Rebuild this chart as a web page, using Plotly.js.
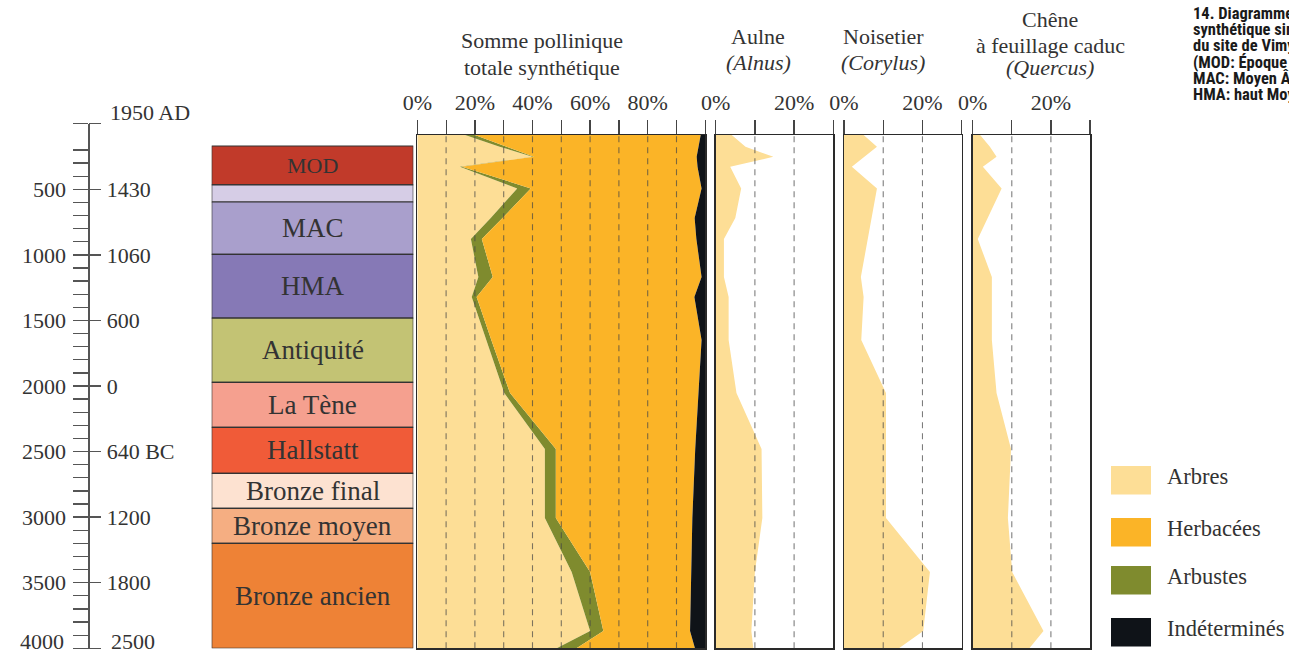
<!DOCTYPE html>
<html><head><meta charset="utf-8">
<script src="https://cdn.plot.ly/plotly-3.0.1.min.js"></script>
<style>html,body{margin:0;padding:0;background:#fff;}#chart{width:1289px;height:654px;}</style>
</head><body><div id="chart"></div>
<script>
// ---------- data (years BP on the depth axis, values in %) ----------
const depthBP      = [86, 175, 252, 328, 493, 719, 879, 1169, 1322, 1649, 2054, 2481, 3007, 3419, 3869, 4000];
const arbres       = [16.6, 28.6, 40.0, 14.8, 34.7, 25.5, 18.6, 21.2, 18.9, 23.9, 30.2, 44.3, 44.3, 53.6, 60.0, 48.4];
const arbustes     = [3.4, 2.0, 0.5, 0.7, 4.7, 4.1, 3.8, 5.0, 1.7, 1.8, 2.0, 3.8, 3.8, 6.4, 4.6, 6.9];
const herbacees    = [78.4, 67.0, 56.5, 81.8, 59.3, 66.7, 74.5, 72.5, 75.6, 73.0, 65.5, 48.4, 47.4, 35.0, 30.1, 41.1];
const indetermines = [1.6, 2.4, 3.0, 2.7, 1.3, 3.7, 3.1, 1.3, 3.8, 1.3, 2.3, 3.5, 4.5, 5.0, 5.3, 3.6];
const aulne        = [4.1, 7.6, 14.7, 3.7, 6.5, 5.0, 2.1, 2.1, 3.3, 3.3, 5.3, 11.7, 11.9, 10.0, 9.1, 9.6];
const noisetier    = [5.0, 8.4, 5.2, 2.0, 8.4, 7.0, 6.1, 4.3, 5.0, 4.4, 10.7, 10.7, 10.7, 21.9, 20.2, 14.0];
const chene        = [1.9, 4.4, 6.1, 2.6, 7.4, 3.8, 1.3, 4.9, 4.9, 4.9, 6.1, 9.8, 9.0, 10.1, 18.1, 14.5];

const periodNames   = ['MOD', '', 'MAC', 'HMA', 'Antiquité', 'La Tène', 'Hallstatt', 'Bronze final', 'Bronze moyen', 'Bronze ancien'];
const periodStartBP = [170, 467, 597, 997, 1482, 1972, 2315, 2666, 2933, 3200];
const periodEndBP   = [467, 597, 997, 1482, 1972, 2315, 2666, 2933, 3200, 4000];
const periodColors  = ['#C13A2A', '#D6CDE6', '#A99FCC', '#8679B6', '#C3C374', '#F5A08F', '#F05B38', '#FDE2D1', '#F5AE82', '#EE8236'];

const bpTickVals   = [0, 500, 1000, 1500, 2000, 2500, 3000, 3500, 4000];
const bpTickText   = ['', '500', '1000', '1500', '2000', '2500', '3000', '3500', '4000'];
const calTickText  = ['1950 AD', '1430', '1060', '600', '0', '640 BC', '1200', '1800', '2500'];

const mainTickVals  = [0, 10, 20, 30, 40, 50, 60, 70, 80, 90, 100];
const mainTickText  = ['0%', '', '20%', '', '40%', '', '60%', '', '80%', '', ''];
const smallTickVals = [0, 10, 20, 30];
const smallTickText = ['0%', '', '20%', ''];

const panelTitleLines = [
  ['Somme pollinique', 'totale synthétique'],
  ['Aulne', '<i>(Alnus)</i>'],
  ['Noisetier', '<i>(Corylus)</i>'],
  ['Chêne', 'à feuillage caduc', '<i>(Quercus)</i>']
];
const legendNames  = ['Arbres', 'Herbacées', 'Arbustes', 'Indéterminés'];
const legendColors = ['#FDDE96', '#FBB427', '#7F8B2E', '#0F1318'];
const captionLines = ['14. Diagramme pollinique', 'synthétique simplifié', 'du site de Vimy', '(MOD: Époque moderne;', 'MAC: Moyen Âge central;', 'HMA: haut Moyen Âge)'];

// ---------- layout helpers ----------
const W = 1289, H = 654;
const fx = p => p / W;
const fy = p => 1 - p / H;
const SERIF = 'Liberation Serif, Times New Roman, serif';
const TXT = '#333333';
const FRAME = '#2a2a2a';
const panelDomainY = [fy(648.3), fy(135)];
const bpRange = [4000, 86];
const PX_PER_YR = 0.13114;

const C_ARB = legendColors[0], C_HERB = legendColors[1], C_SHR = legendColors[2], C_IND = legendColors[3];

const traces = [];
// period boxes
traces.push({
  type: 'bar', x: periodNames.map(() => 0), y: periodStartBP.map((s, i) => periodEndBP[i] - s),
  base: periodStartBP, width: 1, xaxis: 'x', yaxis: 'y5',
  marker: { color: periodColors, line: { color: '#333', width: 1.2 } },
  hoverinfo: 'skip', showlegend: false
});
// main stacked pollen sum
const stackSeries = [[arbres, C_ARB], [arbustes, C_SHR], [herbacees, C_HERB], [indetermines, C_IND]];
stackSeries.forEach(([vals, col]) => {
  traces.push({
    type: 'scatter', mode: 'lines', x: vals, y: depthBP, xaxis: 'x2', yaxis: 'y',
    stackgroup: 'main', orientation: 'h', line: { width: 0, color: col }, fillcolor: col,
    hoverinfo: 'skip', showlegend: false
  });
});
// single taxa
[[aulne, 'x3', 'y2'], [noisetier, 'x4', 'y3'], [chene, 'x5', 'y4']].forEach(([vals, xa, ya]) => {
  traces.push({
    type: 'scatter', mode: 'lines', x: vals, y: depthBP, xaxis: xa, yaxis: ya,
    fill: 'tozerox', line: { width: 0, color: C_ARB }, fillcolor: C_ARB,
    hoverinfo: 'skip', showlegend: false
  });
});
// timeline axes carriers
traces.push({ type: 'scatter', x: [null], y: [null], xaxis: 'x7', yaxis: 'y7', mode: 'markers', showlegend: false, hoverinfo: 'skip' });
traces.push({ type: 'scatter', x: [null], y: [null], xaxis: 'x7', yaxis: 'y8', mode: 'markers', showlegend: false, hoverinfo: 'skip' });

function topAxis(domain, range, tv, tt, anchor) {
  return {
    domain, range, anchor, side: 'top', tickmode: 'array', tickvals: tv, ticktext: tt,
    ticks: 'outside', ticklen: 14, tickwidth: 1.2, tickcolor: '#444',
    showline: true, mirror: true, linecolor: FRAME, linewidth: 1.5,
    showgrid: false, zeroline: false, fixedrange: true,
    tickfont: { family: SERIF, size: 22, color: TXT }, ticklabelstandoff: 1
  };
}
function sideAxis(anchor) {
  return {
    domain: panelDomainY, range: bpRange, anchor, showline: true, mirror: true,
    linecolor: FRAME, linewidth: 1.5, ticks: '', showticklabels: false,
    showgrid: false, zeroline: false, fixedrange: true
  };
}

const minorVals = [];
for (let v = 100; v < 4000; v += 100) if (v % 500 !== 0 && v !== 100) minorVals.push(v);

// timeline axis slightly over-extended so the 4000 tick is kept
const tlPad = 4;
const tlDomain = [fy(648.3 + tlPad * PX_PER_YR), fy(123.7)];
const tlRange = [4000 + tlPad, 0];
const lastI = bpTickVals.length - 1;

const layout = {
  width: W, height: H, margin: { l: 0, r: 0, t: 0, b: 0 },
  paper_bgcolor: '#fff', plot_bgcolor: 'rgba(0,0,0,0)', showlegend: false, hovermode: false,
  xaxis: { domain: [fx(211.7), fx(413.3)], range: [-0.5, 0.5], anchor: 'y5', visible: false, fixedrange: true },
  yaxis5: { domain: panelDomainY, range: bpRange, anchor: 'x', visible: false, fixedrange: true },
  xaxis2: topAxis([fx(417.3), fx(705.3)], [0, 100], mainTickVals, mainTickText, 'y'),
  yaxis: sideAxis('x2'),
  xaxis3: topAxis([fx(715.7), fx(833.3)], [0, 30], smallTickVals, smallTickText, 'y2'),
  yaxis2: sideAxis('x3'),
  xaxis4: topAxis([fx(844), fx(961.7)], [0, 30], smallTickVals, smallTickText, 'y3'),
  yaxis3: sideAxis('x4'),
  xaxis5: topAxis([fx(972.7), fx(1090)], [0, 30], smallTickVals, smallTickText, 'y4'),
  yaxis4: sideAxis('x5'),
  xaxis7: { domain: [0, 0.01], anchor: 'y7', visible: false, fixedrange: true },
  yaxis7: {
    domain: tlDomain, range: tlRange, anchor: 'free', position: fx(88.3), side: 'left',
    showline: true, linecolor: '#555', linewidth: 1.5, tickmode: 'array',
    tickvals: bpTickVals, ticktext: bpTickText.map((t, i) => i === lastI ? '' : t),
    ticks: 'outside', ticklen: 15, tickwidth: 1.5, tickcolor: '#555',
    minor: { tickmode: 'array', tickvals: minorVals, ticks: 'outside', ticklen: 15, tickwidth: 1.3, tickcolor: '#555', showgrid: false },
    showgrid: false, zeroline: false, fixedrange: true, ticklabelstandoff: 3,
    tickfont: { family: SERIF, size: 22, color: TXT }
  },
  yaxis8: {
    overlaying: 'y7', range: tlRange, anchor: 'free', position: fx(88.3), side: 'right',
    showline: false, tickmode: 'array', tickvals: bpTickVals,
    ticktext: calTickText.map((t, i) => (i === lastI || i === 0) ? '' : t),
    ticks: 'outside', ticklen: 12, tickwidth: 1.5, tickcolor: '#555',
    showgrid: false, zeroline: false, fixedrange: true, ticklabelstandoff: 1,
    tickfont: { family: SERIF, size: 22, color: TXT }
  },
  shapes: [], annotations: []
};

// end labels of the time axis, lifted as in the source
layout.annotations.push({
  xref: 'paper', yref: 'y7', x: fx(66), y: bpTickVals[lastI], yshift: 7, text: bpTickText[lastI],
  showarrow: false, xanchor: 'right', yanchor: 'middle', font: { family: SERIF, size: 22, color: TXT }
});
layout.annotations.push({
  xref: 'paper', yref: 'y7', x: fx(109), y: bpTickVals[lastI], yshift: 7, text: calTickText[lastI],
  showarrow: false, xanchor: 'left', yanchor: 'middle', font: { family: SERIF, size: 22, color: TXT }
});
layout.annotations.push({
  xref: 'paper', yref: 'y7', x: fx(108), y: bpTickVals[0], yshift: 11, text: calTickText[0],
  showarrow: false, xanchor: 'left', yanchor: 'middle', font: { family: SERIF, size: 22, color: TXT }
});

// dashed grid lines drawn above fills
const gridSpec = [['x2', 'y', mainTickVals.slice(1, -1)], ['x3', 'y2', [10, 20]], ['x4', 'y3', [10, 20]], ['x5', 'y4', [10, 20]]];
gridSpec.forEach(([xa, ya, vals]) => {
  vals.forEach(v => layout.shapes.push({
    type: 'line', xref: xa, yref: ya + ' domain', x0: v, x1: v, y0: 0, y1: 1, layer: 'above',
    line: { color: 'rgba(70,70,70,0.7)', width: 1.1, dash: '6px,5px' }
  }));
});

// period labels
periodNames.forEach((n, i) => {
  if (!n) return;
  layout.annotations.push({
    xref: 'x', yref: 'y5', x: 0, y: (periodStartBP[i] + periodEndBP[i]) / 2, text: n, showarrow: false,
    xanchor: 'center', yanchor: 'middle',
    font: { family: SERIF, size: n === 'MOD' ? 22 : 27, color: TXT }
  });
});

// panel titles (one annotation per line)
const titleX = [542, 758, 883, 1050];
const titleLineY = [[41, 67], [37, 62], [37, 62], [20, 45, 67]];
panelTitleLines.forEach((lines, i) => {
  lines.forEach((t, j) => {
    layout.annotations.push({
      xref: 'paper', yref: 'paper', x: fx(titleX[i]), y: fy(titleLineY[i][j]), text: t, showarrow: false,
      xanchor: 'center', yanchor: 'middle',
      font: { family: SERIF, size: 22, color: TXT }
    });
  });
});

// legend
const legTop = [466, 518, 566, 618];
legendNames.forEach((n, i) => {
  layout.shapes.push({
    type: 'rect', xref: 'paper', yref: 'paper', x0: fx(1111), x1: fx(1151), y0: fy(legTop[i]), y1: fy(legTop[i] + 28.5),
    line: { width: 0 }, fillcolor: legendColors[i], layer: 'above'
  });
  layout.annotations.push({
    xref: 'paper', yref: 'paper', x: fx(1165), y: fy(legTop[i] + 10), text: n, showarrow: false,
    xanchor: 'left', yanchor: 'middle', font: { family: SERIF, size: 22.5, color: TXT }
  });
});

// caption (cut by the page edge as in the source)
captionLines.forEach((l, i) => {
  layout.annotations.push({
    xref: 'paper', yref: 'paper', x: fx(1191), y: fy(13.5 + i * 16.2), text: '<b>' + l + '</b>', showarrow: false,
    xanchor: 'left', yanchor: 'middle',
    font: { family: 'Liberation Sans Narrow, Roboto Condensed, Arial Narrow, Liberation Sans, sans-serif', size: 16.5, color: '#1a1a1a' }
  });
});

Plotly.newPlot('chart', traces, layout, { displayModeBar: false, staticPlot: true });
</script></body></html>
